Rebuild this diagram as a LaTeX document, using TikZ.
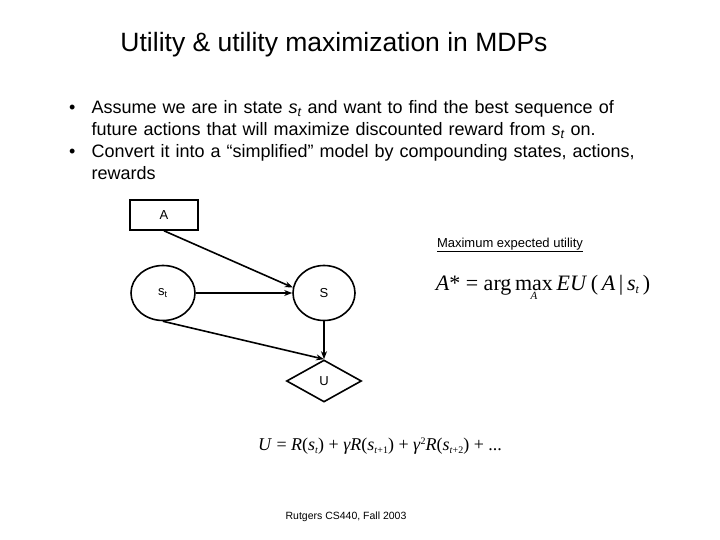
\documentclass[tikz,border=0pt]{standalone}
\usepackage{fontspec}
\setmainfont{Liberation Sans}
\newfontfamily\serif{Liberation Serif}
\usetikzlibrary{shapes.geometric,arrows.meta}
\begin{document}
\begin{tikzpicture}[x=1pt,y=-1pt,
  arr/.style={-{Stealth[length=8pt,width=6pt]},line width=1.6pt},
  nd/.style={draw,line width=1.6pt,font=\fontsize{13}{15}\selectfont,inner sep=0pt}]
\useasboundingbox (0,0) rectangle (720,540);
\node (title) at (334,45) {\fontsize{26.5}{30}\selectfont Utility \& utility maximization in MDPs};
\node[anchor=north west,text width=600pt,font=\fontsize{18}{22}\selectfont] (body) at (58,88) {%
\begin{list}{\textbullet}{\leftmargin=30pt\labelwidth=14pt\labelsep=16pt\itemsep=0pt\parsep=0pt\topsep=0pt\rightmargin=12pt}
\raggedright
\item Assume we are in state \textit{s\textsubscript{t}} and want to find the best sequence of future actions that will maximize discounted reward from \textit{s\textsubscript{t}} on.
\item Convert it into a “simplified” model by compounding states, actions, rewards
\end{list}};
\node[nd,rectangle,minimum width=68pt,minimum height=30pt] (A) at (164,215) {A};
\node[nd,ellipse,minimum width=64pt,minimum height=55pt] (st) at (163,293) {s\textsubscript{t}};
\node[nd,ellipse,minimum width=62pt,minimum height=55pt] (S) at (324,293) {S};
\node[nd,diamond,aspect=1.8,minimum width=75pt,minimum height=42pt] (U) at (324,381) {U};
\draw[arr] (A.south) -- (S.170);
\draw[arr] (st.east) -- (S.west);
\draw[arr] (st.south) -- (U.north);
\draw[arr] (S.south) -- (U.north);
\node (meu) at (510,245) {\fontsize{13}{15}\selectfont\underline{Maximum expected utility}};
\node (eq1) at (543,288) {\serif\fontsize{22}{24}\selectfont \textit{A}* = arg\,$\mathop{\hbox{max}}\limits_{\hbox{\serif\itshape\fontsize{11}{12}\selectfont A}}$\,\textit{EU}\,(\,\textit{A}\,|\,\textit{s}{\fontsize{12}{12}\selectfont\raisebox{-3pt}{\textit{t}}}\,)};
\node (eq2) at (380,446) {\serif\fontsize{18}{22}\selectfont \textit{U} = \textit{R}(\textit{s}{\fontsize{10}{10}\selectfont\raisebox{-3pt}{\textit{t}}}) + \textit{γR}(\textit{s}{\fontsize{10}{10}\selectfont\raisebox{-3pt}{\textit{t}+1}}) + \textit{γ}\raisebox{6pt}{\fontsize{10}{10}\selectfont 2}\textit{R}(\textit{s}{\fontsize{10}{10}\selectfont\raisebox{-3pt}{\textit{t}+2}}) + ...};
\node (foot) at (346,517) {\fontsize{10.5}{12}\selectfont Rutgers CS440, Fall 2003};
\end{tikzpicture}
\end{document}
